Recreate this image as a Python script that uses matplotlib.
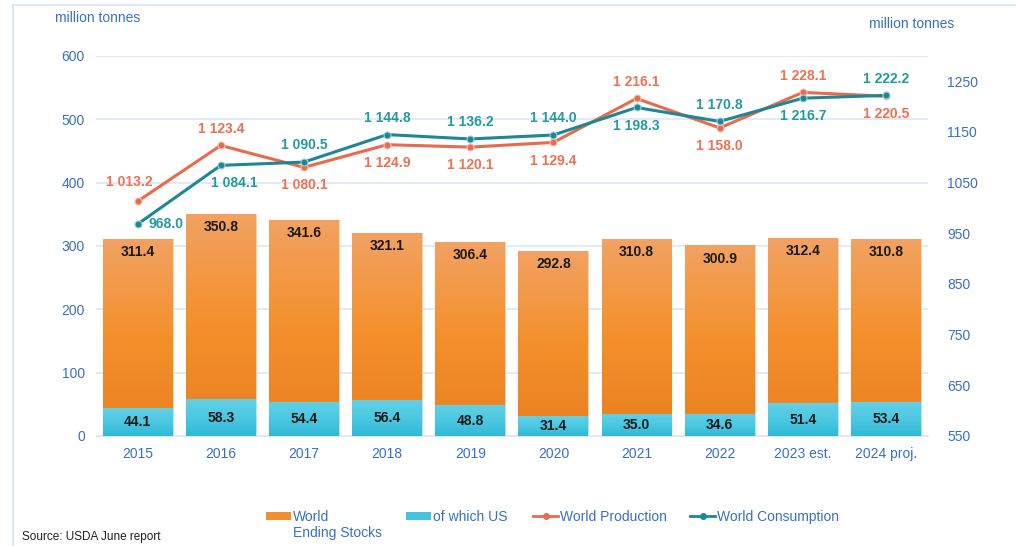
import matplotlib
matplotlib.use('Agg')
import matplotlib.pyplot as plt
import numpy as np
from matplotlib.colors import LinearSegmentedColormap
from matplotlib.patches import Patch
from matplotlib.lines import Line2D

plt.rcParams['font.family'] = ['Liberation Sans', 'DejaVu Sans']

years = ['2015', '2016', '2017', '2018', '2019', '2020', '2021', '2022', '2023 est.', '2024 proj.']
stocks = [311.4, 350.8, 341.6, 321.1, 306.4, 292.8, 310.8, 300.9, 312.4, 310.8]
us_stocks = [44.1, 58.3, 54.4, 56.4, 48.8, 31.4, 35.0, 34.6, 51.4, 53.4]
production = [1013.2, 1123.4, 1080.1, 1124.9, 1120.1, 1129.4, 1216.1, 1158.0, 1228.1, 1220.5]
consumption = [968.0, 1084.1, 1090.5, 1144.8, 1136.2, 1144.0, 1198.3, 1170.8, 1216.7, 1222.2]

# label placement: 'a' above, 'b' below, 'l' above slightly left, 'r' right, 'br' below right
prod_pos = ['l', 'a', 'b', 'b', 'b', 'b', 'a', 'b', 'a', 'b']
cons_pos = ['r', 'br', 'a', 'a', 'a', 'a', 'b', 'a', 'b', 'a']

blue_txt = '#3b6fc0'
grid_c = '#dbe8f7'
orange = '#f28e32'
cyan = '#45c4de'
prod_c = '#ea6a4c'
cons_c = '#1d8796'

orange_cm = LinearSegmentedColormap.from_list('o', ['#e97f1f', '#f4902c', '#f2a263'])
cyan_cm = LinearSegmentedColormap.from_list('c', ['#2fb8d6', '#4cc8e2', '#62d0e6'])

def fmt(v):
    return f'{v:,.1f}'.replace(',', ' ')

def shade(ax, bars, cmap):
    grad = np.linspace(0, 1, 256).reshape(-1, 1)
    for b in bars:
        x0, y0 = b.get_xy()
        im = ax.imshow(grad, extent=[x0, x0 + b.get_width(), y0, y0 + b.get_height()],
                       origin='lower', aspect='auto', cmap=cmap, zorder=b.get_zorder() + 0.1)
        im.set_clip_path(b)

fig = plt.figure(figsize=(10.16, 5.46), dpi=100)
ax = fig.add_axes([0.0945, 0.2015, 0.8185, 0.696])
ax2 = ax.twinx()

x = np.arange(len(years))
w = 0.84
b1 = ax.bar(x, stocks, width=w, color=orange, edgecolor='#f8d2b0', linewidth=0.8, zorder=2)
b2 = ax.bar(x, us_stocks, width=w, color=cyan, edgecolor='#b0e6f2', linewidth=0.8, zorder=3)
shade(ax, b1, orange_cm)
shade(ax, b2, cyan_cm)

for i in range(len(x)):
    ax.text(x[i], stocks[i] - 10, f'{stocks[i]:.1f}', ha='center', va='top',
            fontsize=10, fontweight='bold', color='#1a1a1a', zorder=5)
    ax.text(x[i], us_stocks[i] / 2, f'{us_stocks[i]:.1f}', ha='center', va='center',
            fontsize=10, fontweight='bold', color='#1a1a1a', zorder=5)

ax.set_ylim(0, 600)
ax.set_yticks(range(0, 601, 100))
ax.set_xlim(-0.5, len(x) - 0.5)
ax.set_xticks(x)
ax.set_xticklabels(years)
ax.yaxis.grid(True, color=grid_c, linewidth=1.2)
ax.set_axisbelow(True)
for s in ax.spines.values():
    s.set_visible(False)
for s in ax2.spines.values():
    s.set_visible(False)
ax.spines['bottom'].set_visible(True)
ax.spines['bottom'].set_color(grid_c)
ax.tick_params(axis='both', length=0, labelsize=10, labelcolor=blue_txt, pad=8)

ax2.plot(x, production, color=prod_c, linewidth=2.2, marker='o', markersize=5,
         markeredgecolor='#f8c0b0', markeredgewidth=0.8, zorder=5)
ax2.plot(x, consumption, color=cons_c, linewidth=2.2, marker='o', markersize=5,
         markeredgecolor='#9fd0d6', markeredgewidth=0.8, zorder=6)
ax2.set_ylim(550, 1300)
ax2.set_yticks(range(550, 1251, 100))
ax2.tick_params(axis='y', length=0, labelsize=10, labelcolor=blue_txt, pad=14)

offsets = {'a': (0, 7, 'center', 'bottom'), 'b': (0, -8, 'center', 'top'),
           'l': (-6, 9, 'center', 'bottom'), 'r': (8, 0, 'left', 'center'),
           'br': (10, -8, 'center', 'top')}
for i in range(len(x)):
    dx, dy, ha, va = offsets[prod_pos[i]]
    ax2.annotate(fmt(production[i]), (x[i], production[i]), xytext=(dx, dy),
                 textcoords='offset points', ha=ha, va=va, fontsize=10,
                 fontweight='bold', color='#ee7055', zorder=7)
    dx, dy, ha, va = offsets[cons_pos[i]]
    ax2.annotate(fmt(consumption[i]), (x[i], consumption[i]), xytext=(dx, dy),
                 textcoords='offset points', ha=ha, va=va, fontsize=10,
                 fontweight='bold', color='#239a9e', zorder=7)

fig.text(0.054, 0.967, 'million tonnes', fontsize=10, color=blue_txt, va='center')
fig.text(0.855, 0.956, 'million tonnes', fontsize=10, color=blue_txt, va='center')
fig.text(0.022, 0.016, 'Source: USDA June report', fontsize=8.5, color='#222222', va='center')

# frame around the chart
fig.add_artist(Line2D([0.013, 0.013], [0, 0.991], color=grid_c, linewidth=1.5))
fig.add_artist(Line2D([0.013, 1.0], [0.991, 0.991], color=grid_c, linewidth=1.5))

# legend, one entry at a time so it sits like the original
entries = [
    (Patch(facecolor=orange), 'World', 266),
    (Patch(facecolor=cyan), 'of which US', 406),
    (Line2D([], [], color=prod_c, linewidth=2, marker='o', markersize=4), 'World Production', 533),
    (Line2D([], [], color=cons_c, linewidth=2, marker='o', markersize=4), 'World Consumption', 690),
]
leg_y = 1 - 517 / 546
for h, lab, px in entries:
    lg = fig.legend([h], [lab], loc='center left', bbox_to_anchor=(px / 1016, leg_y),
                    frameon=False, fontsize=10, labelcolor=blue_txt, borderpad=0,
                    borderaxespad=0, handlelength=1.8, handletextpad=0.15,
                    handleheight=0.55)
fig.text(293 / 1016, 1 - 533 / 546, 'Ending Stocks', fontsize=10, color=blue_txt,
         va='center', ha='left')

fig.savefig('out.png', dpi=100)
